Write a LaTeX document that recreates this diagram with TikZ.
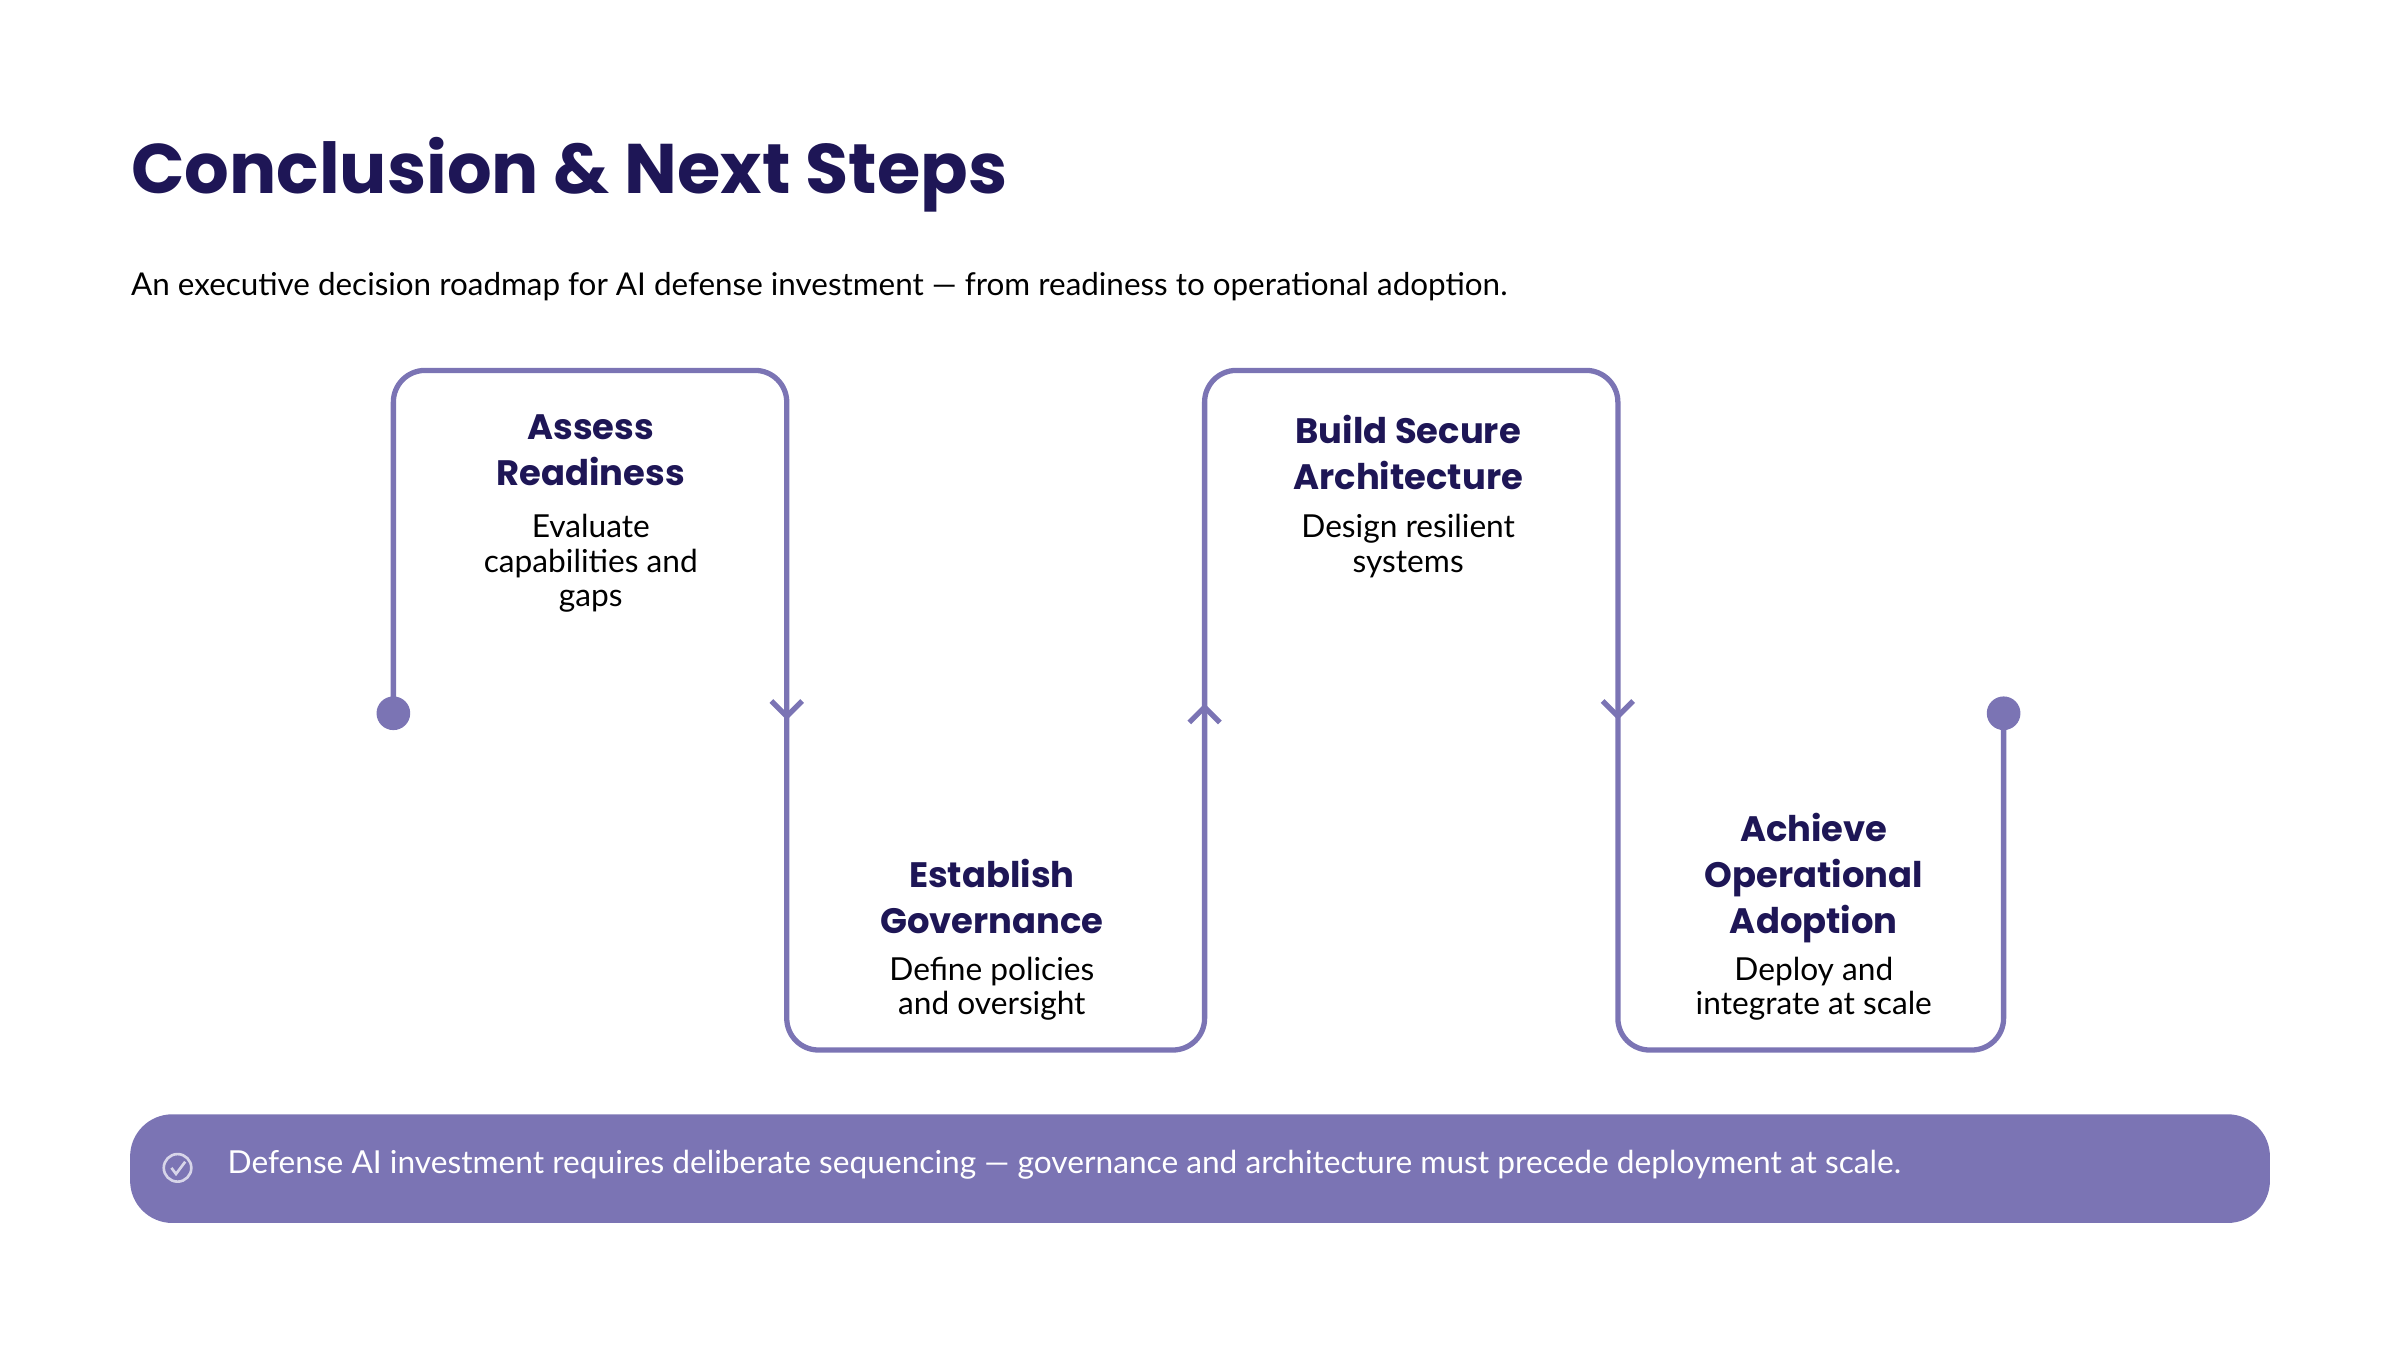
\documentclass[tikz,border=0pt]{standalone}
\usepackage{fontspec}
\setmainfont{Poppins}
\newfontfamily\bodyf{Lato}
\usetikzlibrary{calc}
\definecolor{pur}{HTML}{7B74B4}
\definecolor{navy}{HTML}{1E1656}
\begin{document}
\begin{tikzpicture}[x=0.0102cm,y=-0.0102cm,
  flow/.style={draw=pur,line width=1pt,rounded corners=6pt},
  ttl/.style={text=navy,font=\fontsize{6.7}{8.7}\selectfont\bfseries,align=center,anchor=north},
  body/.style={text=black,font=\bodyf\fontsize{6.0}{6.5}\selectfont,align=center,anchor=north},
  chev/.style={draw=pur,line width=1pt}]
\useasboundingbox (0,0) rectangle (1568,882);
\node[anchor=west,inner sep=0,text=navy,font=\fontsize{13.3}{16}\selectfont\bfseries] (title) at (85,114) {Conclusion \& Next Steps};
\node[anchor=west,inner sep=0,font=\bodyf\fontsize{5.95}{8}\selectfont] (sub) at (85,187) {An executive decision roadmap for AI defense investment — from readiness to operational adoption.};
\coordinate (s) at (257,466);
\coordinate (e) at (1309,466);
\draw[flow] (s) -- (257,242) -- (514,242) -- (514,686) -- (787,686) -- (787,242) -- (1057,242) -- (1057,686) -- (1309,686) -- (e);
\fill[pur] (s) circle (11);
\fill[pur] (e) circle (11);
\foreach \x in {514,1057}{\draw[chev] (\x-10,458) -- (\x,468) -- (\x+10,458);}
\draw[chev] (777,472) -- (787,462) -- (797,472);
\node[ttl] (t1) at (386,259) {Assess\\Readiness};
\node[body] (b1) at (386,324) {Evaluate\\capabilities and\\gaps};
\node[ttl] (t2) at (648,549) {Establish\\Governance};
\node[body] (b2) at (648,613) {Define policies\\and oversight};
\node[ttl] (t3) at (920,259) {Build Secure\\Architecture};
\node[body] (b3) at (920,324) {Design resilient\\systems};
\node[ttl] (t4) at (1185,519) {Achieve\\Operational\\Adoption};
\node[body] (b4) at (1185,613) {Deploy and\\integrate at scale};
\fill[pur,rounded corners=8pt] (85,728) rectangle (1483,799);
\draw[white!70!pur,line width=0.5pt] (116,763) circle (9);
\draw[white!70!pur,line width=0.5pt] (112,763) -- (115,767) -- (121,759);
\node[anchor=west,inner sep=0,text=white,font=\bodyf\fontsize{6.0}{8}\selectfont] (ban) at (148,761) {Defense AI investment requires deliberate sequencing — governance and architecture must precede deployment at scale.};
\end{tikzpicture}
\end{document}
